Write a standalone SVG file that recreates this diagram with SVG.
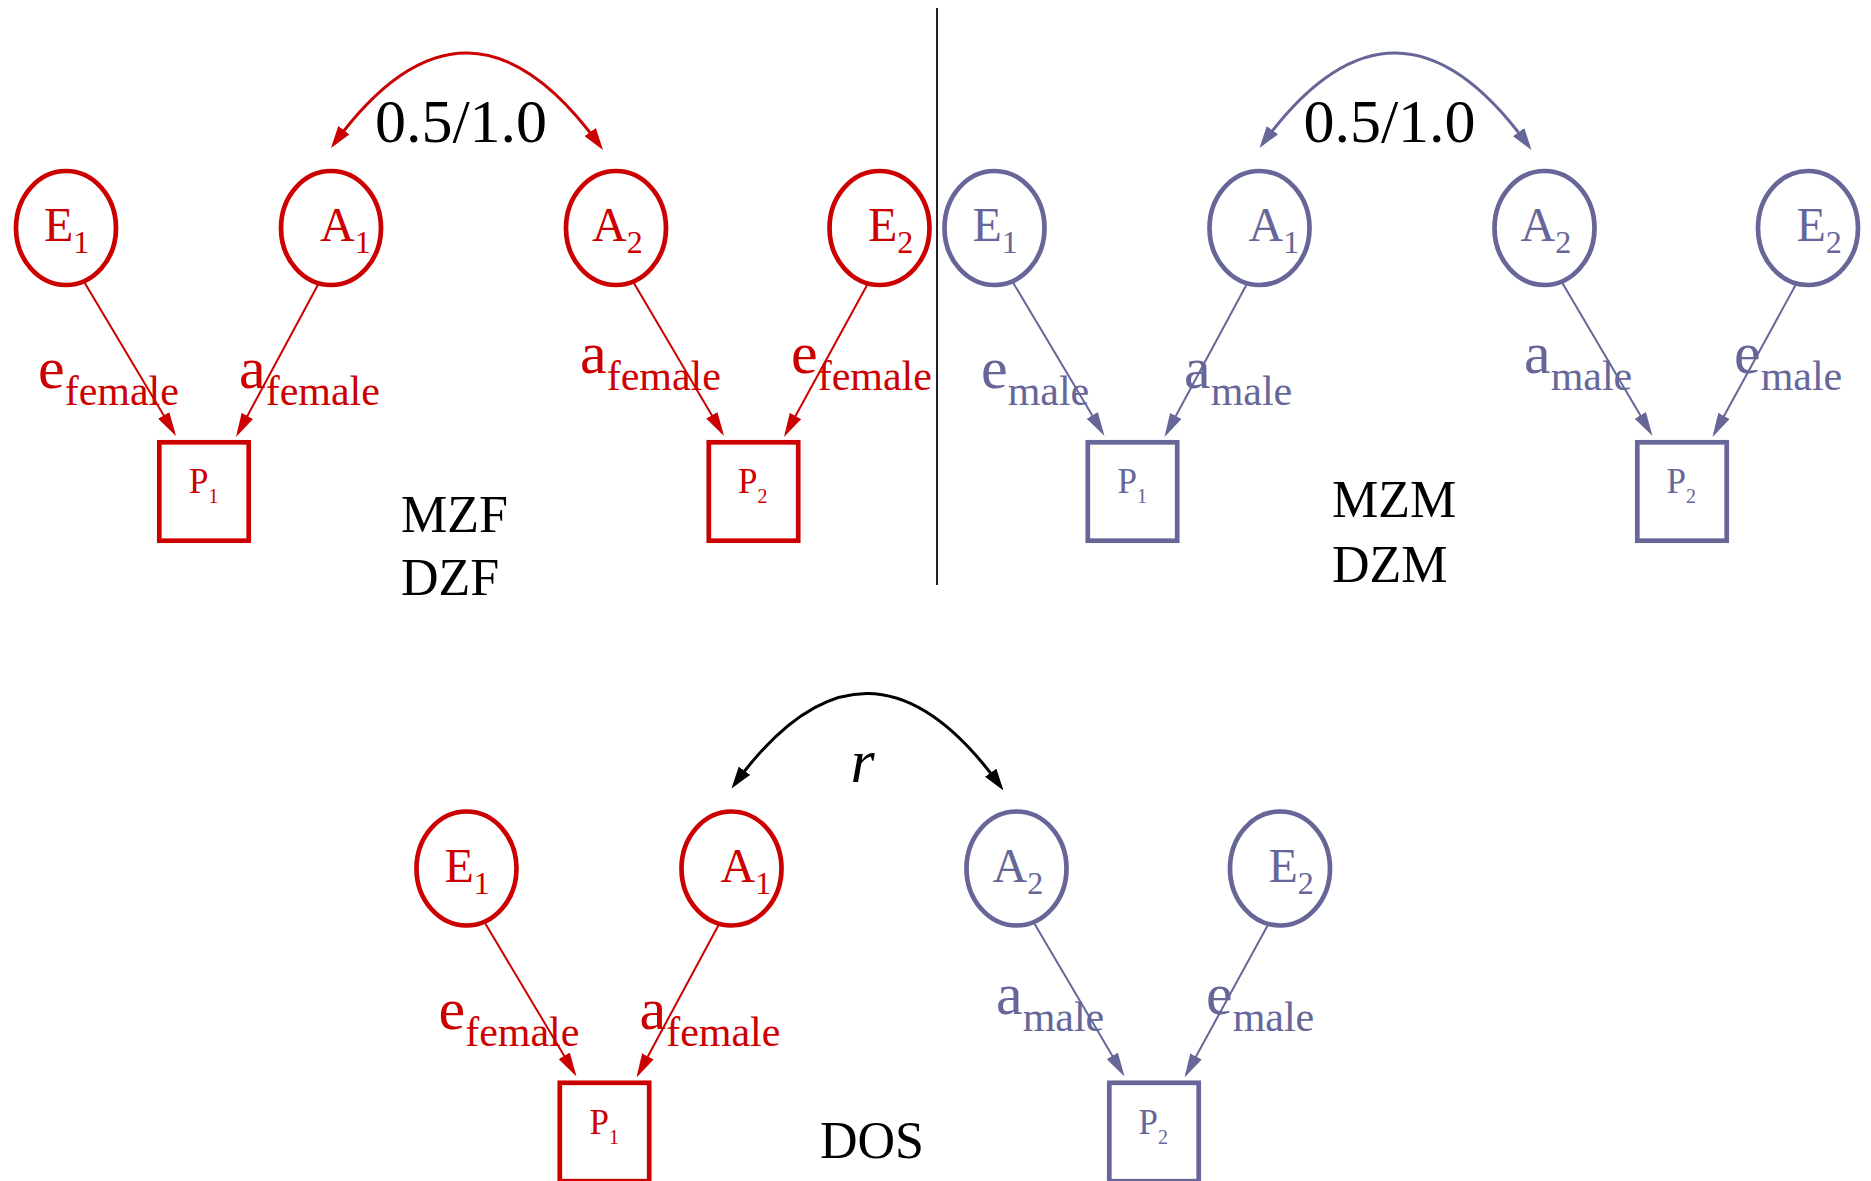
<svg xmlns="http://www.w3.org/2000/svg" width="1871" height="1181" viewBox="0 0 1871 1181">
<style>
text{font-family:"Liberation Serif","Times New Roman",serif}
.nd{fill:#fff;stroke-width:4.7}
.f .nd{stroke:#CC0000}
.f text{fill:#CC0000}
.m .nd{stroke:#666699}
.m text{fill:#666699}
.nl{font-size:48px}
.ns{font-size:32px}
.pl{font-size:35px}
.ps{font-size:20px}
.edge{fill:none;stroke-width:2}
.fe{stroke:#CC0000}
.me{stroke:#666699}
.lbl{font-size:60px}
.lsub{font-size:42px}
.lf{fill:#CC0000}
.lm{fill:#666699}
.arc{fill:none;stroke-width:3}
.big{font-size:62px;fill:#000}
.cap{font-size:52px;fill:#000}
</style>
<defs>
<marker id="arrF" viewBox="0 0 24 13" refX="20" refY="6.5" markerWidth="24" markerHeight="13" markerUnits="userSpaceOnUse" orient="auto"><path d="M0,0 L24,6.5 L0,13 Z" fill="#CC0000"/></marker>
<marker id="arrM" viewBox="0 0 24 13" refX="20" refY="6.5" markerWidth="24" markerHeight="13" markerUnits="userSpaceOnUse" orient="auto"><path d="M0,0 L24,6.5 L0,13 Z" fill="#666699"/></marker>
<marker id="arcF" viewBox="0 0 22 14" refX="17" refY="7" markerWidth="22" markerHeight="14" markerUnits="userSpaceOnUse" orient="auto-start-reverse"><path d="M0,0 L22,7 L0,14 Z" fill="#CC0000"/></marker>
<marker id="arcM" viewBox="0 0 22 14" refX="17" refY="7" markerWidth="22" markerHeight="14" markerUnits="userSpaceOnUse" orient="auto-start-reverse"><path d="M0,0 L22,7 L0,14 Z" fill="#666699"/></marker>
<marker id="arcK" viewBox="0 0 22 14" refX="17" refY="7" markerWidth="22" markerHeight="14" markerUnits="userSpaceOnUse" orient="auto-start-reverse"><path d="M0,0 L22,7 L0,14 Z" fill="#000"/></marker>
</defs>
<rect width="1871" height="1181" fill="#fff"/>
<line id="divider" x1="937" y1="8" x2="937" y2="585" stroke="#222" stroke-width="2"/>

<g id="connectors">
  <g transform="translate(66,0)">
    <path class="edge fe" d="M17,280 L107.95,432.56" marker-end="url(#arrF)"/>
    <path class="edge fe" d="M254,281 L171.9,433.48" marker-end="url(#arrF)"/>
    <path class="edge fe" d="M565.5,279 L655.97,432.55" marker-end="url(#arrF)"/>
    <path class="edge fe" d="M803.3,281 L719.92,433.49" marker-end="url(#arrF)"/>
    <path class="arc fe" d="M267.94,143.96 Q401,-39 534.08,145.94" marker-start="url(#arcF)" marker-end="url(#arcF)"/>
    <text class="big" x="395" y="142" text-anchor="middle">0.5/1.0</text>
    <text class="lbl lf" x="-28" y="388">e<tspan class="lsub" dy="17">female</tspan></text>
    <text class="lbl lf" x="173" y="388">a<tspan class="lsub" dy="17">female</tspan></text>
    <text class="lbl lf" x="514" y="373">a<tspan class="lsub" dy="17">female</tspan></text>
    <text class="lbl lf" x="725" y="373">e<tspan class="lsub" dy="17">female</tspan></text>
  </g>
  <g transform="translate(994.5,0)">
    <path class="edge me" d="M17,280 L107.95,432.56" marker-end="url(#arrM)"/>
    <path class="edge me" d="M254,281 L171.9,433.48" marker-end="url(#arrM)"/>
    <path class="edge me" d="M565.5,279 L655.97,432.55" marker-end="url(#arrM)"/>
    <path class="edge me" d="M803.3,281 L719.92,433.49" marker-end="url(#arrM)"/>
    <path class="arc me" d="M267.94,143.96 Q401,-39 534.08,145.94" marker-start="url(#arcM)" marker-end="url(#arcM)"/>
    <text class="big" x="395" y="142" text-anchor="middle">0.5/1.0</text>
    <text class="lbl lm" x="-13.5" y="388">e<tspan class="lsub" dy="17">male</tspan></text>
    <text class="lbl lm" x="189.5" y="388">a<tspan class="lsub" dy="17">male</tspan></text>
    <text class="lbl lm" x="529.5" y="373">a<tspan class="lsub" dy="17">male</tspan></text>
    <text class="lbl lm" x="739.5" y="373">e<tspan class="lsub" dy="17">male</tspan></text>
  </g>
  <g transform="translate(466.5,640.5)">
    <path class="edge fe" d="M17,280 L107.95,432.56" marker-end="url(#arrF)"/>
    <path class="edge fe" d="M254,281 L171.9,433.48" marker-end="url(#arrF)"/>
    <path class="edge me" d="M565.5,279 L655.97,432.55" marker-end="url(#arrM)"/>
    <path class="edge me" d="M803.3,281 L719.92,433.49" marker-end="url(#arrM)"/>
    <path class="arc" stroke="#000" d="M267.94,143.96 Q401,-39 534.08,145.94" marker-start="url(#arcK)" marker-end="url(#arcK)"/>
    <text class="big" x="384" y="141.5" font-style="italic">r</text>
    <text class="lbl lf" x="-28" y="388">e<tspan class="lsub" dy="17">female</tspan></text>
    <text class="lbl lf" x="173" y="388">a<tspan class="lsub" dy="17">female</tspan></text>
    <text class="lbl lm" x="529.5" y="373">a<tspan class="lsub" dy="17">male</tspan></text>
    <text class="lbl lm" x="739.5" y="373">e<tspan class="lsub" dy="17">male</tspan></text>
  </g>
</g>

<g id="panel-top-left" transform="translate(66,0)">
  <g id="tl-E1" class="f"><ellipse class="nd" cx="0" cy="228" rx="50" ry="57"/><text class="nl" x="-22" y="241">E<tspan class="ns" dy="12">1</tspan></text></g>
  <g id="tl-A1" class="f"><ellipse class="nd" cx="265" cy="228" rx="50" ry="57"/><text class="nl" x="254" y="241">A<tspan class="ns" dy="12">1</tspan></text></g>
  <g id="tl-A2" class="f"><ellipse class="nd" cx="550" cy="228" rx="50" ry="57"/><text class="nl" x="526" y="241">A<tspan class="ns" dy="12">2</tspan></text></g>
  <g id="tl-E2" class="f"><ellipse class="nd" cx="813.5" cy="228" rx="50" ry="57"/><text class="nl" x="802" y="241">E<tspan class="ns" dy="12">2</tspan></text></g>
  <g id="tl-P1" class="f"><rect class="nd" x="93.3" y="442.3" width="89.4" height="98.4"/><text class="pl" x="123" y="493">P<tspan class="ps" dy="10">1</tspan></text></g>
  <g id="tl-P2" class="f"><rect class="nd" x="642.8" y="442.3" width="89.4" height="98.4"/><text class="pl" x="672" y="493">P<tspan class="ps" dy="10">2</tspan></text></g>
</g>
<g id="label-mzf-dzf">
  <text class="cap" x="401" y="532">MZF</text>
  <text class="cap" x="401" y="595">DZF</text>
</g>

<g id="panel-top-right" transform="translate(994.5,0)">
  <g id="tr-E1" class="m"><ellipse class="nd" cx="0" cy="228" rx="50" ry="57"/><text class="nl" x="-22" y="241">E<tspan class="ns" dy="12">1</tspan></text></g>
  <g id="tr-A1" class="m"><ellipse class="nd" cx="265" cy="228" rx="50" ry="57"/><text class="nl" x="254" y="241">A<tspan class="ns" dy="12">1</tspan></text></g>
  <g id="tr-A2" class="m"><ellipse class="nd" cx="550" cy="228" rx="50" ry="57"/><text class="nl" x="526" y="241">A<tspan class="ns" dy="12">2</tspan></text></g>
  <g id="tr-E2" class="m"><ellipse class="nd" cx="813.5" cy="228" rx="50" ry="57"/><text class="nl" x="802" y="241">E<tspan class="ns" dy="12">2</tspan></text></g>
  <g id="tr-P1" class="m"><rect class="nd" x="93.3" y="442.3" width="89.4" height="98.4"/><text class="pl" x="123" y="493">P<tspan class="ps" dy="10">1</tspan></text></g>
  <g id="tr-P2" class="m"><rect class="nd" x="642.8" y="442.3" width="89.4" height="98.4"/><text class="pl" x="672" y="493">P<tspan class="ps" dy="10">2</tspan></text></g>
</g>
<g id="label-mzm-dzm">
  <text class="cap" x="1332" y="517">MZM</text>
  <text class="cap" x="1332" y="582">DZM</text>
</g>

<g id="panel-bottom" transform="translate(466.5,640.5)">
  <g id="b-E1" class="f"><ellipse class="nd" cx="0" cy="228" rx="50" ry="57"/><text class="nl" x="-22" y="241">E<tspan class="ns" dy="12">1</tspan></text></g>
  <g id="b-A1" class="f"><ellipse class="nd" cx="265" cy="228" rx="50" ry="57"/><text class="nl" x="254" y="241">A<tspan class="ns" dy="12">1</tspan></text></g>
  <g id="b-A2" class="m"><ellipse class="nd" cx="550" cy="228" rx="50" ry="57"/><text class="nl" x="526" y="241">A<tspan class="ns" dy="12">2</tspan></text></g>
  <g id="b-E2" class="m"><ellipse class="nd" cx="813.5" cy="228" rx="50" ry="57"/><text class="nl" x="802" y="241">E<tspan class="ns" dy="12">2</tspan></text></g>
  <g id="b-P1" class="f"><rect class="nd" x="93.3" y="442.3" width="89.4" height="98.4"/><text class="pl" x="123" y="493">P<tspan class="ps" dy="10">1</tspan></text></g>
  <g id="b-P2" class="m"><rect class="nd" x="642.8" y="442.3" width="89.4" height="98.4"/><text class="pl" x="672" y="493">P<tspan class="ps" dy="10">2</tspan></text></g>
</g>
<g id="label-dos">
  <text class="cap" x="820" y="1158">DOS</text>
</g>
</svg>
